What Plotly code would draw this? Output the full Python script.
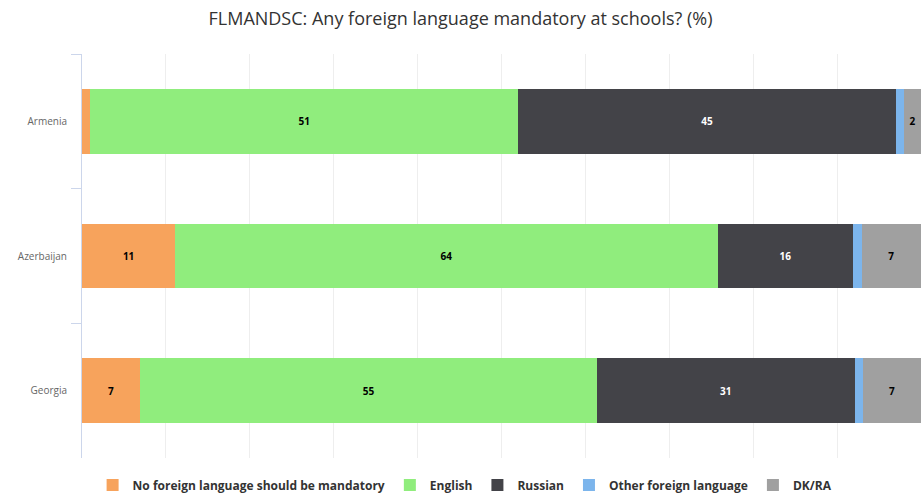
import plotly.graph_objects as go

countries = ["Armenia", "Azerbaijan", "Georgia"]
series_names = ["No foreign language should be mandatory", "English", "Russian",
                "Other foreign language", "DK/RA"]
no_foreign = [1, 11, 7]
english = [51, 64, 55]
russian = [45, 16, 31]
other = [1, 1, 1]
dkra = [2, 7, 7]

values = [no_foreign, english, russian, other, dkra]
colors = ["#f7a35c", "#90ed7d", "#434348", "#7cb5ec", "#a0a0a0"]
text_colors = ["#000000", "#000000", "#ffffff", "#000000", "#000000"]

fig = go.Figure()
for name, vals, col, tcol in zip(series_names, values, colors, text_colors):
    fig.add_trace(go.Bar(
        y=countries, x=vals, name=name, orientation="h",
        marker=dict(color=col, line=dict(width=0)),
        text=[str(v) if v >= 2 else "" for v in vals],
        textposition="inside", insidetextanchor="middle", textangle=0,
        textfont=dict(color=tcol, size=10, family="Open Sans", weight="bold"),
        constraintext="none",
    ))

fig.update_layout(
    barmode="stack", barnorm="percent",
    width=921, height=496,
    margin=dict(l=82, r=0, t=54, b=38, autoexpand=False),
    paper_bgcolor="white", plot_bgcolor="white",
    bargap=0.52,
    title=dict(text="FLMANDSC: Any foreign language mandatory at schools? (%)",
               x=0.5, xanchor="center", y=0.962, yanchor="middle",
               font=dict(family="Open Sans", size=18, color="#333333")),
    legend=dict(orientation="h", xref="container", yref="container",
                x=0.505, xanchor="center", y=0.022, yanchor="middle",
                font=dict(family="Open Sans", size=12, color="#333333", weight="bold"),
                traceorder="normal", itemclick=False),
    showlegend=True,
    uniformtext=dict(minsize=8, mode="show"),
)
fig.update_xaxes(range=[0, 100], showticklabels=False, showgrid=True,
                 gridcolor="#eeeeee", dtick=10, zeroline=False, showline=False)
fig.update_yaxes(autorange="reversed", showline=True, linecolor="#ccd6eb",
                 ticks="outside", tickson="boundaries", ticklen=10, tickcolor="#ccd6eb",
                 ticklabelstandoff=12,
                 tickfont=dict(family="Open Sans", size=10, color="#666666"),
                 showgrid=False)

fig.write_html("out.html")
